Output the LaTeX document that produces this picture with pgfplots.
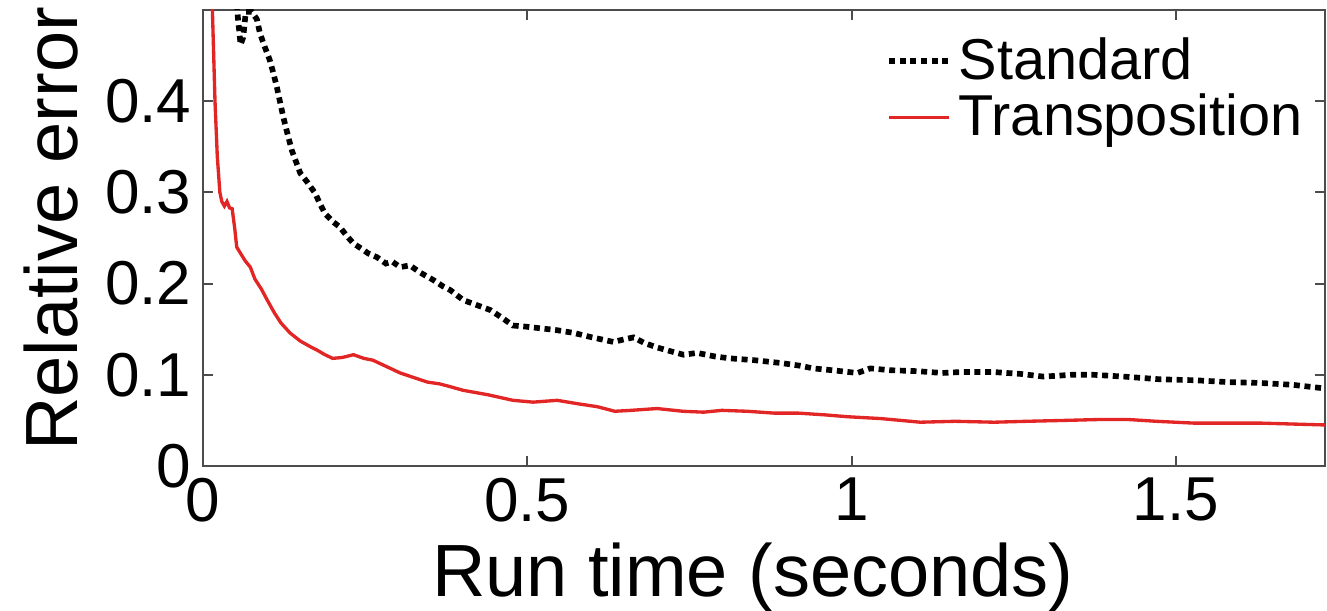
\documentclass[border=0pt]{standalone}
\usepackage{fontspec}
\setmainfont{Liberation Sans}
\usepackage{pgfplots}
\pgfplotsset{compat=1.18}

\definecolor{tred}{RGB}{226,38,38}

\begin{document}
\begin{tikzpicture}
\begin{axis}[
    scale only axis,
    width=336.6pt, height=136.8pt,
    xmin=0, xmax=1.73, ymin=0, ymax=0.5,
    xtick={0,0.5,1,1.5}, ytick={0,0.1,0.2,0.3,0.4},
    xticklabels={0,0.5,1,1.5}, yticklabels={0,0.1,0.2,0.3,0.4},
    tick align=inside, major tick length=3pt,
    axis line style={black!70, line width=0.7pt},
    tick style={black!70, line width=0.6pt},
    /pgf/number format/assume math mode=true,
    tick label style={font=\fontsize{18.6}{22}\selectfont},
    label style={font=\fontsize{22.2}{26}\selectfont},
    xlabel={Run time (seconds)},
    ylabel={Relative error},
    xlabel style={at={(axis description cs:0.49,0)}, anchor=base, yshift=-39.3pt},
    ylabel style={at={(axis description cs:0,0.52)}, anchor=base, yshift=37.5pt},
    legend style={draw=none, fill=none, at={(1,1)}, anchor=north east,
        xshift=-4.5pt, yshift=-6pt, font=\fontsize{17.3}{19}\selectfont,
        row sep=-1pt, inner sep=0pt},
    legend cell align=left,
    legend image code/.code={\draw[#1] (0pt,0pt) -- (18pt,0pt);},
]
\addplot[black, line width=1.7pt, dash pattern=on 1.8pt off 1.4pt] coordinates {
(0.050,0.53)(0.054,0.49)(0.058,0.462)(0.062,0.470)(0.066,0.498)(0.075,0.498)
(0.083,0.490)(0.088,0.474)(0.095,0.460)(0.103,0.445)(0.108,0.432)(0.114,0.415)
(0.124,0.382)(0.130,0.365)(0.137,0.346)(0.150,0.321)(0.160,0.312)(0.173,0.299)
(0.180,0.288)(0.188,0.277)(0.200,0.268)(0.211,0.262)(0.222,0.252)(0.232,0.244)
(0.245,0.238)(0.255,0.233)(0.268,0.229)(0.282,0.222)(0.292,0.224)(0.304,0.218)
(0.319,0.220)(0.335,0.212)(0.355,0.204)(0.370,0.197)(0.381,0.193)(0.401,0.182)
(0.420,0.177)(0.443,0.171)(0.460,0.163)(0.478,0.154)(0.495,0.153)(0.520,0.151)
(0.545,0.149)(0.571,0.146)(0.600,0.141)(0.633,0.136)(0.650,0.139)(0.664,0.141)
(0.680,0.135)(0.700,0.130)(0.720,0.126)(0.741,0.122)(0.762,0.124)(0.790,0.120)
(0.813,0.118)(0.850,0.116)(0.890,0.113)(0.920,0.110)(0.941,0.107)(0.970,0.105)
(1.009,0.102)(1.029,0.107)(1.060,0.105)(1.100,0.104)(1.140,0.102)(1.168,0.103)
(1.219,0.103)(1.260,0.101)(1.296,0.098)(1.340,0.100)(1.373,0.100)(1.420,0.098)
(1.477,0.095)(1.530,0.094)(1.580,0.092)(1.631,0.091)(1.680,0.089)(1.730,0.085)
};
\addlegendentry{Standard}
\addplot[tred, line width=1pt] coordinates {
(0.013,0.52)(0.0145,0.50)(0.0165,0.45)(0.0185,0.40)(0.022,0.34)(0.026,0.300)
(0.029,0.290)(0.033,0.285)(0.037,0.290)(0.041,0.283)(0.045,0.282)(0.049,0.260)
(0.052,0.240)(0.058,0.233)(0.065,0.225)(0.073,0.218)(0.080,0.205)(0.090,0.194)
(0.099,0.182)(0.110,0.168)(0.120,0.157)(0.134,0.146)(0.150,0.137)(0.165,0.131)
(0.176,0.127)(0.188,0.122)(0.200,0.118)(0.215,0.119)(0.232,0.122)(0.248,0.118)
(0.262,0.116)(0.280,0.110)(0.304,0.102)(0.325,0.097)(0.346,0.092)(0.365,0.090)
(0.381,0.087)(0.401,0.083)(0.440,0.078)(0.478,0.072)(0.509,0.070)(0.546,0.072)
(0.580,0.068)(0.608,0.065)(0.635,0.060)(0.660,0.061)(0.700,0.063)(0.740,0.060)
(0.772,0.059)(0.800,0.061)(0.839,0.060)(0.880,0.058)(0.917,0.058)(0.960,0.056)
(0.994,0.054)(1.045,0.052)(1.106,0.048)(1.160,0.049)(1.220,0.048)(1.270,0.049)
(1.330,0.050)(1.384,0.051)(1.426,0.051)(1.470,0.049)(1.528,0.047)(1.580,0.047)
(1.631,0.047)(1.680,0.046)(1.730,0.045)
};
\addlegendentry{Transposition}
\end{axis}
\pgfresetboundingbox
\path (current axis.south west) ++(-60.9pt,-43.5pt) coordinate (bbl);
\path (current axis.north east) ++(0.6pt,3pt) coordinate (bbr);
\path[use as bounding box] (bbl) rectangle (bbr);
\end{tikzpicture}
\end{document}
